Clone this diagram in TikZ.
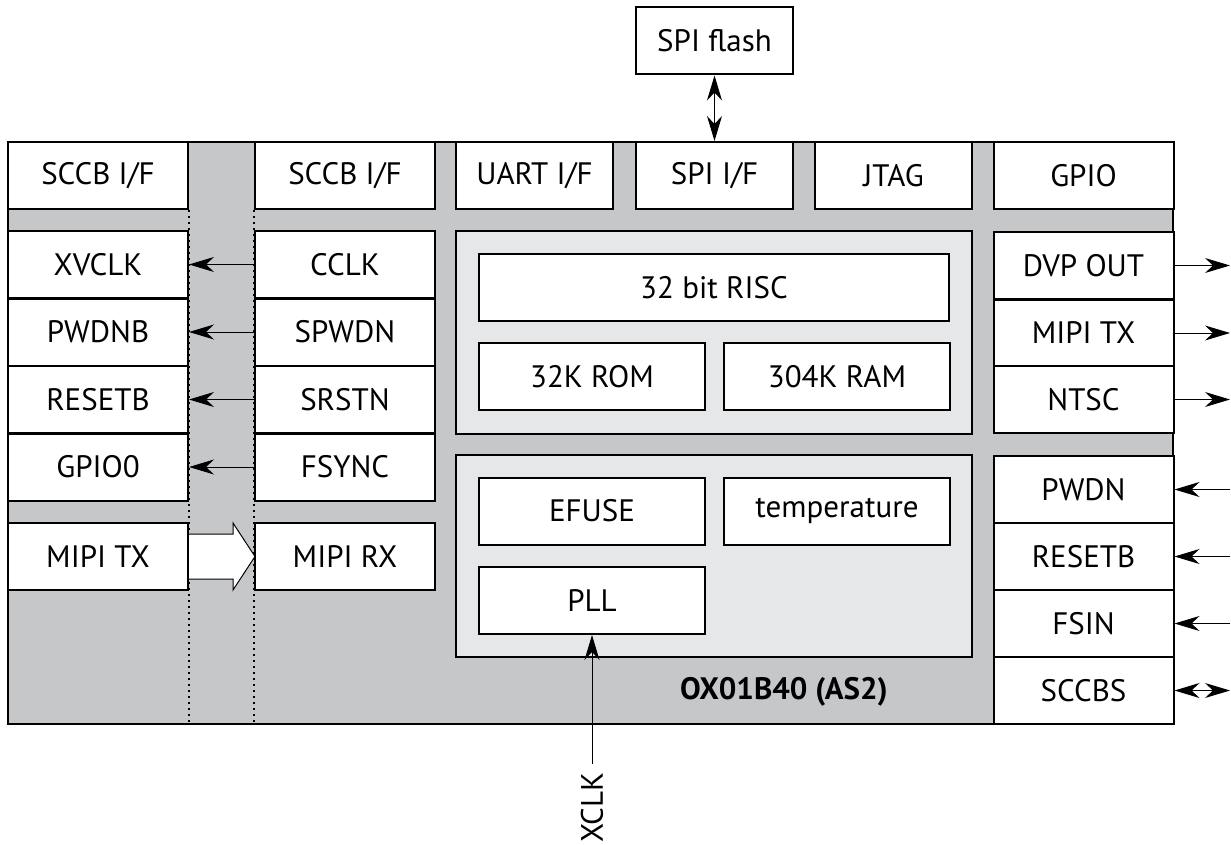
\documentclass[tikz,border=0pt]{standalone}
\usepackage{fontspec}
\setmainfont{PT Sans}
\usetikzlibrary{arrows.meta, calc}
\definecolor{chipgray}{HTML}{C6C7C9}
\definecolor{coregray}{HTML}{E6E7E9}

\begin{document}
\begin{tikzpicture}[x=0.5pt, y=-0.5pt,
    box/.style={rectangle, draw, line width=1pt, fill=white, minimum width=90pt, minimum height=33.5pt, inner sep=0pt, font=\fontsize{15.5}{18}\selectfont},
    ifbox/.style={box, minimum width=78.5pt},
    half/.style={box, minimum width=113pt},
    core/.style={rectangle, draw, line width=1pt, fill=coregray, minimum width=258pt, minimum height=101pt},
    arrow/.style={-{Stealth[length=12.5pt, width=7.5pt, inset=4pt]}, line width=0.5pt},
    darrow/.style={{Stealth[length=12.5pt, width=7.5pt, inset=4pt]}-{Stealth[length=12.5pt, width=7.5pt, inset=4pt]}, line width=0.5pt}
]
\useasboundingbox (0,0) rectangle (1231,845);

% Chip outline
\node[rectangle, draw, line width=1pt, fill=chipgray, minimum width=582.5pt, minimum height=290.75pt, inner sep=0pt] (chip) at (590.5,432.75) {};
\coordinate (edge) at (1230,0);

% Core blocks
\node[core] (cpu) at (714,332.5) {};
\node[core] (misc) at (714,556) {};

% Top row
\node[box] (sccbA) at (98,175.5) {SCCB I/F};
\node[box] (sccbB) at (345,175.5) {SCCB I/F};
\node[ifbox] (uart) at (534.5,175.5) {UART I/F};
\node[ifbox] (spi) at (714.5,175.5) {SPI I/F};
\node[ifbox] (jtag) at (893.5,175.5) {JTAG};
\node[box] (gpio) at (1083.5,175.5) {GPIO};
\node[ifbox] (flash) at (714.5,41) {SPI flash};

% Dotted separators
\draw[dotted, line width=1pt] (sccbA.south east) -- (sccbA.south east |- chip.south);
\draw[dotted, line width=1pt] (sccbB.south west) -- (sccbB.south west |- chip.south);

% MIPI link
\draw[fill=white, line width=0.5pt] ($(98,556.5)+(90,-22.5)$) -- ++(45,0) -- ++(0,-11) -- (255,556.5) -- ($(98,556.5)+(135,33.5)$) -- ++(0,-11) -- ($(98,556.5)+(90,22.5)$);

% Left columns
\node[box] (xvclk) at (98,264.5) {XVCLK};
\node[box] (pwdnb) at (98,332) {PWDNB};
\node[box] (resetL) at (98,399.5) {RESETB};
\node[box] (gpio0) at (98,467) {GPIO0};
\node[box] (mipitx) at (98,556.5) {MIPI TX};
\node[box] (cclk) at (345,264.5) {CCLK};
\node[box] (spwdn) at (345,332) {SPWDN};
\node[box] (srstn) at (345,399.5) {SRSTN};
\node[box] (fsync) at (345,467) {FSYNC};
\node[box] (mipirx) at (345,556.5) {MIPI RX};

% Right column
\node[box] (dvp) at (1083.5,265.5) {DVP OUT};
\node[box] (mipiout) at (1083.5,333) {MIPI TX};
\node[box] (ntsc) at (1083.5,399.5) {NTSC};
\node[box] (pwdn) at (1083.5,489.5) {PWDN};
\node[box] (resetR) at (1083.5,556.5) {RESETB};
\node[box] (fsin) at (1083.5,623.5) {FSIN};
\node[box] (sccbs) at (1083.5,690.5) {SCCBS};

% Inside the core
\node[box, minimum width=235pt] (risc) at (714,287.5) {32 bit RISC};
\node[half] (rom) at (592,376.5) {32K ROM};
\node[half] (ram) at (837,376.5) {304K RAM};
\node[half] (efuse) at (592,511) {EFUSE};
\node[half] (temp) at (837,511) {temperature};
\node[half] (pll) at (592,600.5) {PLL};
\node[font=\fontsize{15.5}{18}\selectfont\bfseries] (name) at (784,692) {OX01B40 (AS2)};
\node[rotate=90, anchor=east, inner sep=4pt, font=\fontsize{15.5}{18}\selectfont] (xclk) at (592,764) {XCLK};

% Arrows
\draw[darrow] (flash) -- (spi);
\draw[arrow] (cclk.west) -- (xvclk.east);
\draw[arrow] (spwdn.west) -- (pwdnb.east);
\draw[arrow] (srstn.west) -- (resetL.east);
\draw[arrow] (fsync.west) -- (gpio0.east);
\draw[arrow] (dvp.east) -- (dvp.east -| edge);
\draw[arrow] (mipiout.east) -- (mipiout.east -| edge);
\draw[arrow] (ntsc.east) -- (ntsc.east -| edge);
\draw[arrow] (pwdn.east -| edge) -- (pwdn.east);
\draw[arrow] (resetR.east -| edge) -- (resetR.east);
\draw[arrow] (fsin.east -| edge) -- (fsin.east);
\draw[darrow] (sccbs.east) -- (sccbs.east -| edge);
\draw[arrow] (xclk.east) -- (pll.south);

\end{tikzpicture}
\end{document}
